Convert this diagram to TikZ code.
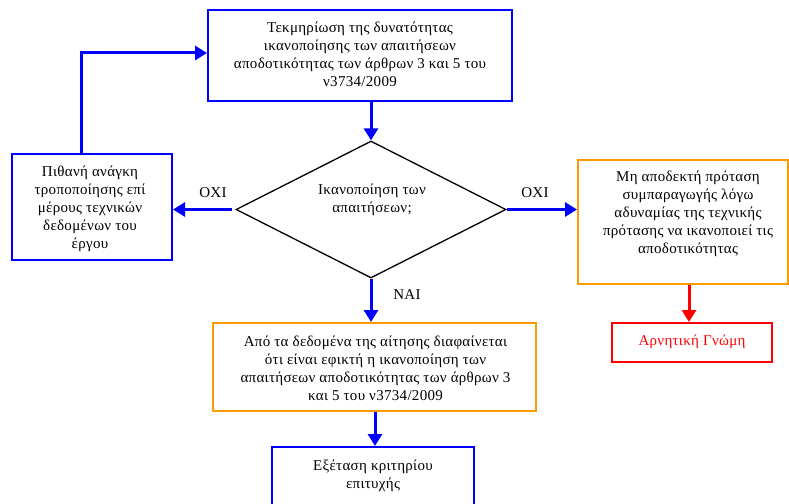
\documentclass[tikz,border=0pt]{standalone}
\usepackage{fontspec}
\setmainfont{Liberation Serif}[LetterSpace=2]
\usetikzlibrary{arrows.meta,shapes.geometric}
\definecolor{fbBlue}{RGB}{0,0,255}
\definecolor{fbOrange}{RGB}{255,153,0}
\definecolor{fbRed}{RGB}{255,0,0}
\begin{document}
\begin{tikzpicture}[x=1pt,y=-1pt,
  txt/.style={font=\fontsize{15}{18}\selectfont, align=center, inner sep=0pt},
  boxshape/.style={draw, line width=2pt, inner sep=0pt, rectangle},
  bluebox/.style={boxshape, draw=fbBlue},
  orangebox/.style={boxshape, draw=fbOrange},
  redbox/.style={boxshape, draw=fbRed},
  conn/.style={draw=fbBlue, line width=3pt, -{Triangle[length=12pt,width=14pt]}},
  redconn/.style={conn, draw=fbRed, fill=fbRed},
  lbl/.style={font=\fontsize{15}{18}\selectfont, inner sep=0pt}
]
\useasboundingbox (0,0) rectangle (789,503);

% boxes
\node[bluebox, minimum width=304pt, minimum height=91pt] (top) at (360,55.5) {};
\node[txt] (topT) at (360,54) {Τεκμηρίωση της δυνατότητας\\ικανοποίησης των απαιτήσεων\\αποδοτικότητας των άρθρων 3 και 5 του\\ν3734/2009};

\node[draw=black, line width=1.3pt, shape=diamond, inner sep=0pt, minimum width=270pt, minimum height=137pt] (dia) at (371,209.5) {};
\node[txt] (diaT) at (372,200) {Ικανοποίηση των\\απαιτήσεων;};

\node[bluebox, minimum width=160pt, minimum height=106pt] (left) at (92,207) {};
\node[txt] (leftT) at (90,208.5) {Πιθανή ανάγκη\\τροποποίησης επί\\μέρους τεχνικών\\δεδομένων του\\έργου};

\node[orangebox, minimum width=210pt, minimum height=124pt] (right) at (683,222) {};
\node[txt] (rightT) at (688,213.5) {Μη αποδεκτή πρόταση\\συμπαραγωγής λόγω\\αδυναμίας της τεχνικής\\πρότασης να ικανοποιεί τις\\αποδοτικότητας};

\node[redbox, minimum width=160pt, minimum height=39pt] (neg) at (692,342.5) {};
\node[txt, text=fbRed] (negT) at (692,342) {Αρνητική Γνώμη};

\node[orangebox, minimum width=323pt, minimum height=88pt] (mid) at (374.5,367) {};
\node[txt] (midT) at (375.5,368.5) {Από τα δεδομένα της αίτησης διαφαίνεται\\ότι είναι εφικτή η ικανοποίηση των\\απαιτήσεων αποδοτικότητας των άρθρων 3\\και 5 του ν3734/2009};

\node[bluebox, minimum width=202pt, minimum height=73pt] (bot) at (373,483.5) {};
\node[txt] (botT) at (373,476) {Εξέταση κριτηρίου\\επιτυχής};

% labels
\node[lbl] (oxiL) at (213,193) {ΟΧΙ};
\node[lbl] (oxiR) at (535,193) {ΟΧΙ};
\node[lbl] (nai) at (407,295) {ΝΑΙ};

% connectors
\draw[conn] (dia.north |- top.south) -- (dia.north);
\draw[conn, shorten <=3pt] (dia.west) -- (left.east |- dia.west);
\draw[conn] (dia.east) -- (right.west |- dia.east);
\draw[conn] (dia.south) -- (dia.south |- mid.north);
\coordinate (midout) at (375,0);
\draw[conn] (midout |- mid.south) -- (midout |- bot.north);
\coordinate (redx) at (689,0);
\draw[redconn] (redx |- right.south) -- (redx |- neg.north);
\coordinate (fbk) at (81,53);
\draw[conn] (fbk |- left.north) -- (fbk) -- (fbk -| top.west);
\end{tikzpicture}
\end{document}
